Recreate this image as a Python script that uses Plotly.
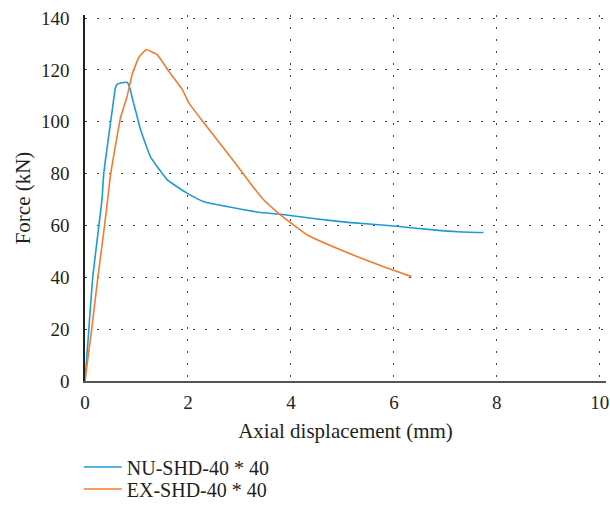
import plotly.graph_objects as go

# NU-SHD-40 * 40 (blue)
nu_x = [0, 0.075, 0.15, 0.27, 0.33, 0.365, 0.45, 0.53, 0.59, 0.625, 0.7, 0.82, 0.87, 0.92, 1.0, 1.08, 1.27, 1.6, 1.98, 2.31, 2.76, 3.41, 3.76, 4.51, 5.16, 6.0, 6.77, 7.23, 7.74]
nu_y = [0, 20, 40, 60, 70, 80.2, 93, 104.6, 113, 114.5, 115, 115.2, 113, 109, 103, 96.9, 86.6, 77.6, 72.5, 69.2, 67.3, 65.0, 64.4, 62.5, 61.1, 59.8, 58.3, 57.6, 57.3]

# EX-SHD-40 * 40 (orange)
ex_x = [0, 0.13, 0.25, 0.38, 0.44, 0.5, 0.69, 0.82, 0.92, 1.05, 1.19, 1.40, 1.63, 1.89, 2.02, 2.24, 2.89, 3.21, 3.47, 3.76, 3.99, 4.31, 4.96, 5.80, 6.34]
ex_y = [0, 20, 40, 60, 70, 80, 101.5, 110, 118.5, 125, 127.8, 125.9, 119.4, 112.4, 107.2, 101.4, 84.8, 76.3, 69.9, 64.7, 61.1, 56.4, 50.6, 44.1, 40.3]

x_ticks = [0, 2, 4, 6, 8, 10]
y_ticks = [0, 20, 40, 60, 80, 100, 120, 140]

FONT = "Liberation Serif"
TXT = "#231f20"

fig = go.Figure()
fig.add_trace(go.Scatter(x=nu_x, y=nu_y, mode="lines", name="NU-SHD-40 * 40", legend="legend",
                         line=dict(color="#1E9BD7", width=1.6, shape="spline", smoothing=0.4)))
fig.add_trace(go.Scatter(x=ex_x, y=ex_y, mode="lines", name="EX-SHD-40 * 40", legend="legend2",
                         line=dict(color="#F47B2C", width=1.6, shape="spline", smoothing=0.4)))

# body margin removed below; plot data area in page px: x0=85 .. x10=600, y0=381 .. y140=18
W, H = 610, 511
X_MAX, Y_MAX = 10.12, 141.2
px_x = (600 - 85) / 10.0
px_y = (381 - 18) / 140.0
L = 85
R = W - (85 + px_x * X_MAX)
B = H - 381
T = 381 - px_y * Y_MAX
plot_h = H - T - B

leg_common = dict(x=-0.012, xanchor="left", yanchor="middle", orientation="v",
                  font=dict(family=FONT, size=20, color=TXT),
                  bgcolor="rgba(0,0,0,0)", itemwidth=38)

fig.update_layout(
    width=W, height=H,
    margin=dict(l=L, r=R, t=T, b=B, autoexpand=False),
    paper_bgcolor="white", plot_bgcolor="white",
    font=dict(family=FONT, size=19, color=TXT),
    showlegend=True,
    legend=dict(y=(381 - 467) / plot_h, **leg_common),
    legend2=dict(y=(381 - 489) / plot_h, **leg_common),
)
fig.update_xaxes(
    range=[0, X_MAX], tickvals=x_ticks, ticktext=[str(v) for v in x_ticks],
    tickfont=dict(family=FONT, size=19, color=TXT), ticklabeloverflow="allow",
    showline=True, linecolor="#555555", linewidth=1.5,
    showgrid=True, gridcolor="#444444", gridwidth=1, griddash="2px,10px",
    zeroline=False, ticks="", ticklabelstandoff=3, automargin=False,
    title=dict(text="Axial displacement (mm)", standoff=12, font=dict(size=21)),
)
fig.update_yaxes(
    range=[0, Y_MAX], tickvals=y_ticks, ticktext=[str(v) for v in y_ticks],
    tickfont=dict(family=FONT, size=19, color=TXT), ticklabeloverflow="allow",
    showline=True, linecolor="#222222", linewidth=1.5,
    showgrid=True, gridcolor="#444444", gridwidth=1, griddash="2px,10px",
    zeroline=False, ticks="", ticklabelstandoff=10, automargin=False,
    title=dict(text="Force (kN)", standoff=5, font=dict(size=21)),
)

fig.write_html(
    "out.html",
    config={"displayModeBar": False},
    post_script="document.body.style.margin='0';document.body.style.overflow='hidden';",
)
